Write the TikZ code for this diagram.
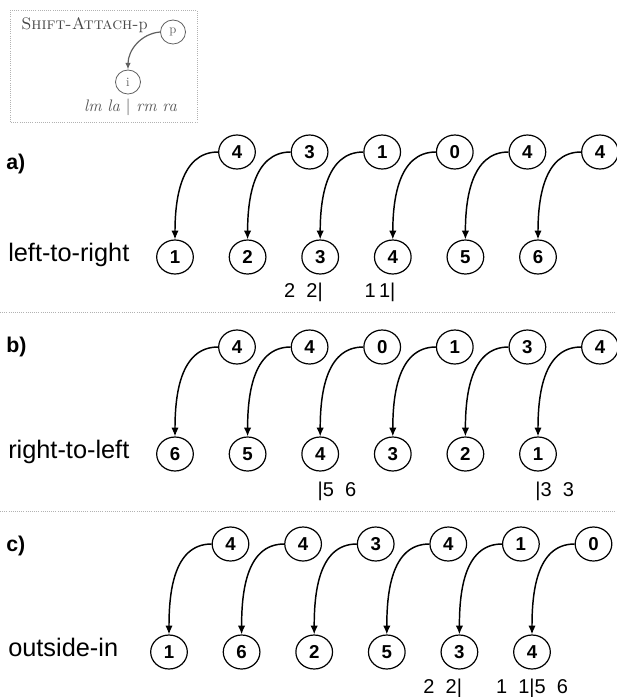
\documentclass[tikz,border=0pt]{standalone}
\usepackage{fontspec}
\setsansfont{Liberation Sans}
\usetikzlibrary{arrows.meta,shapes.geometric,positioning}
\tikzset{
tok/.style={
  draw,
  ellipse,
  line width=0.9pt,
  minimum width=27.5pt,
  minimum height=25.5pt,
  inner sep=0pt,
  font=\sffamily\bfseries\fontsize{14}{16}\selectfont
  },
attach/.style={draw, line width=1.1pt, -{Latex[length=6.5pt,width=5.5pt]}, out=180, in=270},
rowname/.style={anchor=base west, inner sep=0pt, font=\sffamily\fontsize{19}{22}\selectfont},
part/.style={anchor=base west, inner sep=0pt, font=\sffamily\bfseries\fontsize{16}{18}\selectfont},
stack/.style={anchor=base, inner sep=0pt, font=\sffamily\fontsize{15}{17}\selectfont},
sep/.style={draw=gray!60, densely dotted, line width=0.6pt},
lgtok/.style={draw=gray!75!black, ellipse, line width=0.6pt, minimum width=18.75pt, minimum height=18pt, inner sep=0pt, text=gray!75!black, font=\fontsize{9.5}{10}\selectfont},
lgattach/.style={draw=gray!75!black, line width=0.9pt, -{Latex[length=5pt,width=4pt]}, out=175, in=270}
}
\newcommand{\cutat}[2]{\llap{#1}|\rlap{#2}}

\begin{document}
\begin{tikzpicture}[x=0.75pt,y=0.75pt,yscale=-1,xscale=1]
\useasboundingbox (0,0) rectangle (617,697);

% legend
\draw[sep] (10,10) rectangle (197,122);
\node[anchor=base west, inner sep=0pt, text=gray!55!black, font=\fontsize{12.5}{15}\selectfont] (lgname) at (21,29) {\textsc{Shift-Attach-}p};
\node[lgtok] (lp) at (173,32) {p};
\node[lgtok] (li) at (128,82) {i};
\draw[lgattach] (lp.west) to (li.north);
\node[inner sep=0pt, text=gray!65!black, font=\itshape\fontsize{12.5}{14}\selectfont] (lgcut) at (130.5,107) {lm la \textup{|} rm ra};

% a) left-to-right
\node[part] (parta) at (6,169) {a)};
\node[rowname] (namea) at (8,261) {left-to-right};
\node[tok] (pa1) at (237,152) {4};
\node[tok] (pa2) at (309.6,152) {3};
\node[tok] (pa3) at (382.2,152) {1};
\node[tok] (pa4) at (454.8,152) {0};
\node[tok] (pa5) at (527.4,152) {4};
\node[tok] (pa6) at (600,152) {4};
\node[tok] (a1) at (175,257) {1};
\node[tok] (a2) at (247.6,257) {2};
\node[tok] (a3) at (320.2,257) {3};
\node[tok] (a4) at (392.8,257) {4};
\node[tok] (a5) at (465.4,257) {5};
\node[tok] (a6) at (538,257) {6};
\draw[attach] (pa1.west) to (a1.north);
\draw[attach] (pa2.west) to (a2.north);
\draw[attach] (pa3.west) to (a3.north);
\draw[attach] (pa4.west) to (a4.north);
\draw[attach] (pa5.west) to (a5.north);
\draw[attach] (pa6.west) to (a6.north);
\node[stack] (sa3) at (320.2,297) {\cutat{2~~2}{}};
\node[stack] (sa4) at (392.8,297) {\cutat{1\,1}{}};

\draw[sep] (0,312) -- (617,312);

% b) right-to-left
\node[part] (partb) at (6,352) {b)};
\node[rowname] (nameb) at (8,458) {right-to-left};
\node[tok] (pb1) at (237,347) {4};
\node[tok] (pb2) at (309.6,347) {4};
\node[tok] (pb3) at (382.2,347) {0};
\node[tok] (pb4) at (454.8,347) {1};
\node[tok] (pb5) at (527.4,347) {3};
\node[tok] (pb6) at (600,347) {4};
\node[tok] (b1) at (175,454) {6};
\node[tok] (b2) at (247.6,454) {5};
\node[tok] (b3) at (320.2,454) {4};
\node[tok] (b4) at (392.8,454) {3};
\node[tok] (b5) at (465.4,454) {2};
\node[tok] (b6) at (538,454) {1};
\draw[attach] (pb1.west) to (b1.north);
\draw[attach] (pb2.west) to (b2.north);
\draw[attach] (pb3.west) to (b3.north);
\draw[attach] (pb4.west) to (b4.north);
\draw[attach] (pb5.west) to (b5.north);
\draw[attach] (pb6.west) to (b6.north);
\node[stack] (sb3) at (320.2,496) {\cutat{}{5~~6}};
\node[stack] (sb6) at (538,496) {\cutat{}{3~~3}};

\draw[sep] (0,511) -- (617,511);

% c) outside-in
\node[part] (partc) at (6,551) {c)};
\node[rowname] (namec) at (8,656) {outside-in};
\node[tok] (pc1) at (230.5,544) {4};
\node[tok] (pc2) at (303.1,544) {4};
\node[tok] (pc3) at (375.7,544) {3};
\node[tok] (pc4) at (448.3,544) {4};
\node[tok] (pc5) at (520.9,544) {1};
\node[tok] (pc6) at (593.5,544) {0};
\node[tok] (c1) at (169,652) {1};
\node[tok] (c2) at (241.6,652) {6};
\node[tok] (c3) at (314.2,652) {2};
\node[tok] (c4) at (386.8,652) {5};
\node[tok] (c5) at (459.4,652) {3};
\node[tok] (c6) at (532,652) {4};
\draw[attach] (pc1.west) to (c1.north);
\draw[attach] (pc2.west) to (c2.north);
\draw[attach] (pc3.west) to (c3.north);
\draw[attach] (pc4.west) to (c4.north);
\draw[attach] (pc5.west) to (c5.north);
\draw[attach] (pc6.west) to (c6.north);
\node[stack] (sc5) at (459.4,693) {\cutat{2~~2}{}};
\node[stack] (sc6) at (532,693) {\cutat{1~~1}{5~~6}};

\end{tikzpicture}
\end{document}
